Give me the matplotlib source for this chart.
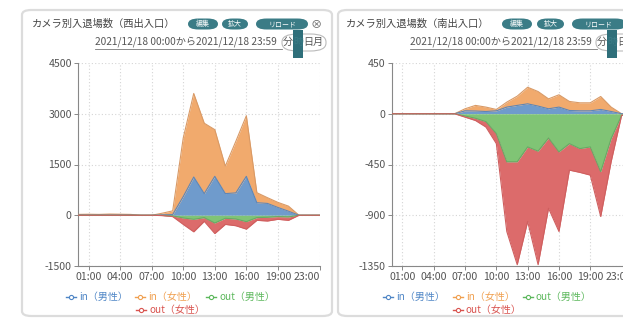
import matplotlib
matplotlib.use("Agg")
import matplotlib.pyplot as plt
from matplotlib.patches import FancyBboxPatch, Rectangle
from matplotlib.lines import Line2D

plt.rcParams['font.family'] = ['Noto Sans CJK JP', 'DejaVu Sans']

W, H = 623, 320

hours = [f"{h:02d}:00" for h in range(24)]
tick_hours = [1, 4, 7, 10, 13, 16, 19, 23]
tick_labels = ['01:00', '04:00', '07:00', '10:00', '13:00', '16:00', '19:00', '23:00']

# 西出入口
west_in_male = [5, 5, 5, 5, 5, 5, 0, 0, 10, 20, 550, 1130, 640, 1150, 640, 660, 1150, 370, 350, 230, 120, 0, 0, 0]
west_in_female = [20, 25, 20, 30, 25, 20, 0, 0, 50, 110, 1730, 2470, 2080, 1380, 810, 1525, 1790, 296, 170, 150, 150, 0, 0, 0]
west_out_male = [0, 0, 0, 0, 0, 0, 0, 0, -5, -20, -80, -120, -70, -230, -90, -110, -190, -70, -60, -40, -50, 0, 0, 0]
west_out_female = [0, 0, 0, 0, 0, 0, 0, 0, -5, -20, -190, -370, -110, -310, -180, -200, -220, -80, -110, -80, -100, 0, 0, 0]

# 南出入口
south_in_male = [0, 0, 0, 0, 0, 0, 0, 26, 24, 20, 26, 59, 74, 88, 68, 44, 59, 29, 26, 26, 38, 20, 0, 0]
south_in_female = [0, 0, 0, 0, 0, 0, 0, 18, 50, 39, 12, 44, 82, 147, 129, 88, 109, 80, 71, 71, 115, 39, 0, 0]
south_out_male = [0, 0, 0, 0, 0, 0, 0, -20, -40, -70, -176, -426, -426, -294, -332, -215, -338, -265, -309, -294, -514, -220, -15, 0]
south_out_female = [0, 0, 0, 0, 0, 0, 0, -10, -20, -48, -89, -618, -912, -661, -1006, -623, -706, -235, -211, -250, -397, -205, 0, 0]

series_names = ['in（男性）', 'in（女性）', 'out（男性）', 'out（女性）']
fill_colors = ['#6f9bcc', '#f1aa6d', '#80c475', '#dc6b6b']
line_colors = ['#5f86b5', '#d99a66', '#6aa865', '#cf5f5f']
text_colors = ['#4f86c6', '#f0a050', '#5cb85c', '#d9534f']

fig = plt.figure(figsize=(W / 100, H / 100), dpi=100)
fig.patch.set_facecolor('white')


def fx(x):
    return x / W


def fy(y):
    return 1 - y / H


def card(x0, x1, y0, y1):
    fig.add_artist(FancyBboxPatch((fx(x0), fy(y1)), fx(x1) - fx(x0), fy(y0) - fy(y1),
                                  boxstyle="round,pad=0,rounding_size=0.015",
                                  transform=fig.transFigure, facecolor='white',
                                  edgecolor='#dcdcdc', linewidth=1.6, zorder=0))


def button(x0, x1, yc, label):
    h = 11
    fig.add_artist(FancyBboxPatch((fx(x0), fy(yc + h / 2)), fx(x1) - fx(x0), h / H,
                                  boxstyle="round,pad=0,rounding_size=0.017",
                                  transform=fig.transFigure, facecolor='#3b7c86',
                                  edgecolor='none', zorder=2))
    fig.text(fx((x0 + x1) / 2), fy(yc), label, ha='center', va='center',
             fontsize=5, color='white', zorder=3)


def header(x_title, title, btns, date_x0, date_x1, sel_x, close_x=None):
    fig.text(fx(x_title), fy(24), title, ha='left', va='center', fontsize=7.4, color='#444444')
    for (a, b, lab) in btns:
        button(a, b, 24, lab)
    if close_x is not None:
        fig.text(fx(close_x), fy(24), '⊗', ha='center', va='center', fontsize=8, color='#666666')
    # date range link
    fig.text(fx(date_x0), fy(42), '2021/12/18 00:00から2021/12/18 23:59', ha='left', va='center',
             fontsize=7.3, color='#555555')
    fig.add_artist(Line2D([fx(date_x0), fx(date_x1)], [fy(48.5), fy(48.5)], color='#777777',
                          linewidth=0.6, transform=fig.transFigure))
    # time unit selector
    fig.add_artist(FancyBboxPatch((fx(sel_x - 12), fy(51)), 44 / W, 17 / H,
                                  boxstyle="round,pad=0,rounding_size=0.025",
                                  transform=fig.transFigure, facecolor='none',
                                  edgecolor='#bbbbbb', linewidth=0.8, zorder=2))
    fig.add_artist(Rectangle((fx(sel_x - 1), fy(58)), 10 / W, 28 / H,
                             transform=fig.transFigure, facecolor='#2f6f7a',
                             edgecolor='none', zorder=3))
    for i, ch in enumerate(['分', '時', '日', '月']):
        fig.text(fx(sel_x - 6 + i * 10), fy(42), ch, ha='center', va='center', fontsize=7.2,
                 color='#3b7c86' if ch == '時' else '#555555', zorder=4)


def chart(ax, in_m, in_f, out_m, out_f, ylim, yticks):
    x = list(range(24))
    top_b = in_m
    top_o = [a + b for a, b in zip(in_m, in_f)]
    bot_g = out_m
    bot_r = [a + b for a, b in zip(out_m, out_f)]
    zero = [0] * 24
    ax.fill_between(x, zero, top_b, color=fill_colors[0], linewidth=0, zorder=2)
    ax.fill_between(x, top_b, top_o, color=fill_colors[1], linewidth=0, zorder=2)
    ax.fill_between(x, zero, bot_g, color=fill_colors[2], linewidth=0, zorder=2)
    ax.fill_between(x, bot_g, bot_r, color=fill_colors[3], linewidth=0, zorder=2)
    ax.plot(x, top_o, color=line_colors[1], linewidth=0.8, zorder=3)
    ax.plot(x, top_b, color=line_colors[0], linewidth=0.8, zorder=3)
    ax.plot(x, bot_g, color=line_colors[2], linewidth=0.8, zorder=3)
    ax.plot(x, bot_r, color=line_colors[3], linewidth=0.8, zorder=3)
    ax.set_xlim(0, 23)
    ax.set_ylim(*ylim)
    ax.set_yticks(yticks)
    ax.set_yticklabels([str(v) for v in yticks])
    ax.set_xticks(tick_hours)
    ax.set_xticklabels(tick_labels)
    ax.get_xticklabels()[-1].set_ha('right')
    ax.grid(True, linestyle=(0, (1, 2)), color='#d5d5d5', linewidth=0.8, zorder=0)
    for s in ['top', 'right']:
        ax.spines[s].set_visible(False)
    for s in ['left', 'bottom']:
        ax.spines[s].set_color('#888888')
        ax.spines[s].set_linewidth(0.8)
    ax.tick_params(axis='both', colors='#888888', labelcolor='#555555', labelsize=7.6,
                   length=3, width=0.7, pad=1.5)
    ax.set_facecolor('none')


def legend(xs_row1, x_row2):
    rows = [(xs_row1[0], 297, 0), (xs_row1[1], 297, 1), (xs_row1[2], 297, 2), (x_row2, 310, 3)]
    for (xm, yy, i) in rows:
        fig.add_artist(Line2D([fx(xm - 5), fx(xm), fx(xm + 5)], [fy(yy)] * 3, color=text_colors[i],
                              linewidth=1.0, marker='o', markersize=3, markevery=[1],
                              markerfacecolor='white', markeredgewidth=0.8,
                              transform=fig.transFigure))
        fig.text(fx(xm + 8), fy(yy), series_names[i], ha='left', va='center', fontsize=7.2,
                 color=text_colors[i])


# cards
card(22, 332, 10, 316)
card(338, 660, 10, 316)

header(32, 'カメラ別入退場数（西出入口）',
       [(188, 218, '編集'), (222, 248, '拡大'), (256, 308, 'リロード')],
       95, 282, 294, close_x=316)
header(346, 'カメラ別入退場数（南出入口）',
       [(502, 532, '編集'), (537, 564, '拡大'), (572, 626, 'リロード')],
       410, 597, 608)

ax1 = fig.add_axes([fx(78), fy(266), (320 - 78) / W, (266 - 63) / H])
chart(ax1, west_in_male, west_in_female, west_out_male, west_out_female,
      (-1500, 4500), [-1500, 0, 1500, 3000, 4500])

ax2 = fig.add_axes([fx(392), fy(266), (632 - 392) / W, (266 - 63) / H])
chart(ax2, south_in_male, south_in_female, south_out_male, south_out_female,
      (-1350, 450), [-1350, -900, -450, 0, 450])

legend([71, 140, 211], 141)
legend([388, 458, 528], 458)

fig.savefig('out.png', dpi=100)
